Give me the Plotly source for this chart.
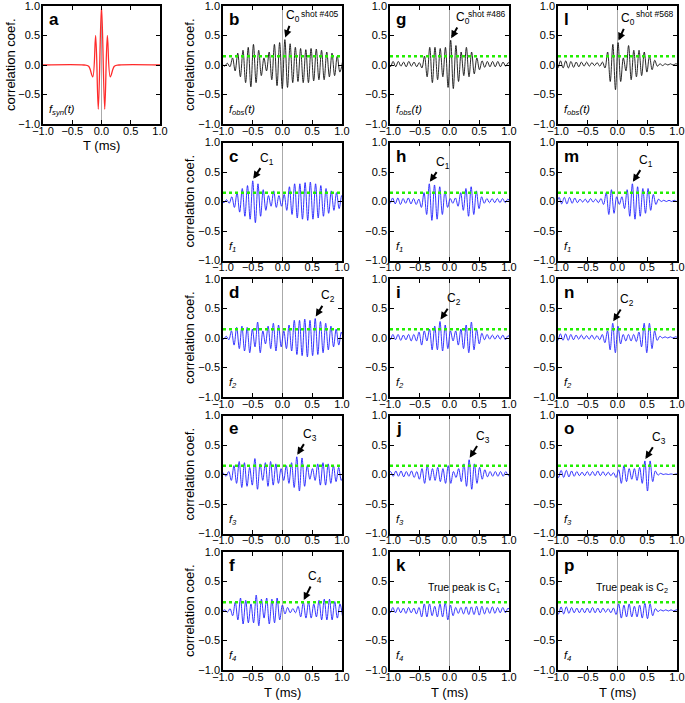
import plotly.graph_objects as go

# ---------------- data ----------------
HALF = 0.044          # spacing (ms) between successive extrema
THRESHOLD = 0.15      # green dotted threshold
TICKS = [-1.0, -0.5, 0.0, 0.5, 1.0]

syn_t = [-1.0, -0.3, -0.22, -0.15, -0.1, -0.055, 0.0, 0.055, 0.1, 0.15, 0.22, 0.3, 1.0]
syn_v = [0.0, 0.0, -0.02, -0.2, 0.5, -0.75, 1.0, -0.75, 0.5, -0.2, -0.02, 0.0, 0.0]

# column 1: shot #405
b_start = -1.016
b_vals = [0.02, -0.02, 0.03, -0.03, 0.12, -0.1, 0.2, -0.2, 0.25, -0.3, 0.3, -0.37, 0.35, -0.3,
          0.25, -0.18, 0.12, -0.1, 0.22, -0.25, 0.35, -0.35, 0.38, -0.4, 0.43, -0.38, 0.36, -0.3,
          0.3, -0.28, 0.28, -0.3, 0.26, -0.3, 0.28, -0.27, 0.27, -0.25, 0.25, -0.25, 0.22, -0.2,
          0.2, -0.18, 0.15, -0.12, 0.05]
c_start = -1.028
c_vals = [0.02, -0.02, 0.03, -0.03, 0.08, -0.1, 0.15, -0.18, 0.22, -0.25, 0.27, -0.3, 0.35, -0.36,
          0.3, -0.25, 0.2, -0.15, 0.1, -0.08, 0.18, -0.1, 0.1, -0.08, 0.12, -0.15, 0.25, -0.22,
          0.3, -0.28, 0.3, -0.3, 0.32, -0.32, 0.33, -0.3, 0.3, -0.28, 0.27, -0.25, 0.22, -0.2,
          0.18, -0.15, 0.15, -0.12, 0.1, -0.1]
d_start = -1.034
d_vals = [0.02, -0.02, 0.03, -0.03, 0.12, -0.12, 0.18, -0.18, 0.2, -0.22, 0.18, -0.25, 0.15, -0.15,
          0.27, -0.25, 0.12, -0.1, 0.2, -0.18, 0.25, -0.22, 0.22, -0.15, 0.12, -0.18, 0.22, -0.22,
          0.3, -0.28, 0.3, -0.3, 0.32, -0.32, 0.3, -0.3, 0.33, -0.28, 0.28, -0.25, 0.25, -0.2,
          0.2, -0.15, 0.15, -0.12, 0.1, -0.08]
e_start = -1.036
e_vals = [-0.02, 0.02, -0.03, 0.05, -0.1, 0.15, -0.15, 0.22, -0.22, 0.2, -0.2, 0.12, -0.18, 0.27,
          -0.25, 0.18, -0.1, 0.2, -0.2, 0.22, -0.18, 0.18, -0.15, 0.1, -0.1, 0.15, -0.15, 0.2,
          -0.22, 0.3, -0.28, 0.28, -0.2, 0.15, -0.08, 0.1, -0.1, 0.18, -0.18, 0.2, -0.18, 0.18,
          -0.15, 0.15, -0.12, 0.12, -0.1, 0.05]
f_start = -1.014
f_vals = [-0.01, 0.02, -0.02, 0.04, -0.08, 0.15, -0.15, 0.22, -0.22, 0.18, -0.2, 0.12, -0.2, 0.27,
          -0.25, 0.2, -0.12, 0.22, -0.22, 0.2, -0.2, 0.22, -0.15, 0.1, -0.05, 0.06, -0.03, 0.04,
          -0.03, 0.08, -0.1, 0.15, -0.12, 0.15, -0.12, 0.12, -0.1, 0.18, -0.15, 0.2, -0.15, 0.2,
          -0.15, 0.16, -0.12, 0.12, -0.1]

# column 2: shot #486
g_start = -1.036
g_vals = [0.05, -0.03, 0.06, -0.03, 0.06, -0.02, 0.05, -0.03, 0.06, -0.02, 0.05, -0.03, 0.04, -0.05,
          0.15, -0.2, 0.3, -0.3, 0.3, -0.25, 0.28, -0.2, 0.3, -0.38, 0.42, -0.4, 0.33, -0.28,
          0.22, -0.18, 0.3, -0.2, 0.22, -0.15, 0.12, -0.08, 0.07, -0.04, 0.06, -0.03, 0.06, -0.03,
          0.06, -0.03, 0.05, -0.02, 0.04, -0.02]
h_start = -1.044
h_vals = [0.05, -0.03, 0.06, -0.04, 0.06, -0.05, 0.05, -0.03, 0.06, -0.04, 0.05, -0.05, 0.04, -0.1,
          0.15, -0.22, 0.3, -0.32, 0.28, -0.3, 0.25, -0.22, 0.18, -0.1, 0.05, -0.03, 0.06, -0.08,
          0.15, -0.15, 0.22, -0.25, 0.25, -0.22, 0.18, -0.12, 0.08, -0.03, 0.05, -0.02, 0.05, -0.02,
          0.05, -0.02, 0.05, -0.02, 0.04, -0.01]
i_start = -1.04
i_vals = [0.05, -0.03, 0.06, -0.03, 0.06, -0.04, 0.05, -0.03, 0.06, -0.05, 0.06, -0.05, 0.1, -0.12,
          0.12, -0.05, 0.15, -0.2, 0.2, -0.2, 0.28, -0.22, 0.22, -0.18, 0.12, -0.05, 0.12, -0.12,
          0.15, -0.18, 0.22, -0.25, 0.27, -0.2, 0.15, -0.1, 0.08, -0.03, 0.06, -0.02, 0.05, -0.02,
          0.05, -0.02, 0.05, -0.03, 0.04, -0.02]
j_start = -1.034
j_vals = [-0.02, 0.05, -0.03, 0.06, -0.03, 0.06, -0.04, 0.05, -0.03, 0.06, -0.05, 0.05, -0.08, 0.1,
          -0.15, 0.15, -0.1, 0.1, -0.1, 0.12, -0.12, 0.1, -0.15, 0.15, -0.15, 0.05, -0.05, 0.1,
          -0.12, 0.18, -0.2, 0.25, -0.25, 0.18, -0.15, 0.12, -0.08, 0.08, -0.04, 0.05, -0.03, 0.05,
          -0.03, 0.05, -0.03, 0.05, -0.02, 0.03]
k_start = -1.04
k_vals = [0.05, -0.03, 0.06, -0.03, 0.06, -0.03, 0.05, -0.04, 0.06, -0.03, 0.05, -0.05, 0.06, -0.1,
          0.12, -0.1, 0.12, -0.08, 0.08, -0.1, 0.12, -0.1, 0.14, -0.15, 0.1, -0.08, 0.06, -0.04,
          0.06, -0.05, 0.07, -0.06, 0.07, -0.06, 0.08, -0.07, 0.08, -0.05, 0.06, -0.04, 0.07, -0.04,
          0.06, -0.03, 0.06, -0.03, 0.05, -0.02]

# column 3: shot #568
l_start = -1.046
l_vals = [0.06, -0.05, 0.07, -0.05, 0.07, -0.05, 0.06, -0.04, 0.05, -0.03, 0.05, -0.02, 0.05, -0.02,
          0.04, -0.01, 0.04, -0.02, 0.05, -0.05, 0.22, -0.28, 0.35, -0.42, 0.38, -0.28, 0.12, -0.1,
          0.33, -0.25, 0.25, -0.2, 0.25, -0.18, 0.22, -0.12, 0.15, -0.08, 0.08, -0.02, 0.02, -0.01,
          0.02, 0.0, 0.02, 0.0, 0.02, 0.01]
m_start = -1.026
m_vals = [-0.04, 0.07, -0.04, 0.07, -0.04, 0.07, -0.03, 0.06, -0.02, 0.04, -0.01, 0.04, -0.02, 0.05,
          -0.01, 0.04, -0.02, 0.05, -0.05, 0.15, -0.22, 0.2, -0.2, 0.08, -0.05, 0.08, -0.12, 0.2,
          -0.25, 0.3, -0.3, 0.25, -0.25, 0.22, -0.2, 0.22, -0.15, 0.12, -0.05, 0.04, 0.0, 0.02,
          0.0, 0.02, 0.0, 0.02, 0.0, 0.01]
n_start = -1.048
n_vals = [0.06, -0.04, 0.07, -0.04, 0.07, -0.04, 0.06, -0.03, 0.05, -0.02, 0.05, -0.02, 0.04, -0.02,
          0.05, -0.02, 0.04, -0.03, 0.06, -0.08, 0.12, -0.2, 0.25, -0.25, 0.2, -0.1, 0.06, -0.05,
          0.06, -0.05, 0.06, -0.06, 0.1, -0.15, 0.25, -0.25, 0.25, -0.18, 0.12, -0.04, 0.03, 0.0,
          0.02, 0.0, 0.02, 0.0, 0.02, 0.0]
o_start = -1.036
o_vals = [0.06, -0.05, 0.07, -0.05, 0.07, -0.04, 0.06, -0.03, 0.05, -0.02, 0.04, -0.02, 0.05, -0.02,
          0.05, -0.02, 0.06, -0.02, 0.05, -0.02, 0.04, -0.02, 0.03, -0.05, 0.08, -0.15, 0.15, -0.12,
          0.1, -0.08, 0.1, -0.1, 0.12, -0.15, 0.23, -0.28, 0.23, -0.12, 0.06, -0.01, 0.02, 0.0,
          0.01, 0.0, 0.01, 0.0, 0.01, 0.0]
p_start = -1.036
p_vals = [0.06, -0.05, 0.07, -0.05, 0.07, -0.04, 0.06, -0.03, 0.05, -0.03, 0.05, -0.03, 0.05, -0.03,
          0.06, -0.03, 0.05, -0.03, 0.05, -0.02, 0.04, -0.03, 0.05, -0.06, 0.12, -0.12, 0.1, -0.1,
          0.12, -0.1, 0.08, -0.1, 0.1, -0.12, 0.13, -0.13, 0.12, -0.08, 0.04, -0.01, 0.02, 0.0,
          0.02, 0.0, 0.02, 0.0, 0.02, 0.0]

# labelled peaks: panel -> (index into the panel's values, label, label offset x, label offset y)
peak_marks = {
    "b": (24, "C<sub>0</sub>", 8, -22), "g": (24, "C<sub>0</sub>", 12, -21), "l": (24, "C<sub>0</sub>", 10, -22),
    "c": (12, "C<sub>1</sub>", 14, -21), "d": (36, "C<sub>2</sub>", 13, -21), "e": (29, "C<sub>3</sub>", 13, -21),
    "f": (31, "C<sub>4</sub>", 12, -24),
    "h": (16, "C<sub>1</sub>", 14, -20), "i": (20, "C<sub>2</sub>", 14, -21), "j": (31, "C<sub>3</sub>", 14, -22),
    "m": (29, "C<sub>1</sub>", 14, -22), "n": (22, "C<sub>2</sub>", 14, -22), "o": (34, "C<sub>3</sub>", 14, -22),
}
shot_labels = {"b": "shot #405", "g": "shot #486", "l": "shot #568"}
true_peak_labels = {"k": "True peak is C<sub>1</sub>", "p": "True peak is C<sub>2</sub>"}
func_labels = {"a": "f<sub>syn</sub>(t)", "b": "f<sub>obs</sub>(t)", "g": "f<sub>obs</sub>(t)", "l": "f<sub>obs</sub>(t)",
               "c": "f<sub>1</sub>", "h": "f<sub>1</sub>", "m": "f<sub>1</sub>",
               "d": "f<sub>2</sub>", "i": "f<sub>2</sub>", "n": "f<sub>2</sub>",
               "e": "f<sub>3</sub>", "j": "f<sub>3</sub>", "o": "f<sub>3</sub>",
               "f": "f<sub>4</sub>", "k": "f<sub>4</sub>", "p": "f<sub>4</sub>"}

panel_series = {
    "b": (b_start, b_vals), "c": (c_start, c_vals), "d": (d_start, d_vals), "e": (e_start, e_vals), "f": (f_start, f_vals),
    "g": (g_start, g_vals), "h": (h_start, h_vals), "i": (i_start, i_vals), "j": (j_start, j_vals), "k": (k_start, k_vals),
    "l": (l_start, l_vals), "m": (m_start, m_vals), "n": (n_start, n_vals), "o": (o_start, o_vals), "p": (p_start, p_vals),
}

# ---------------- layout geometry (page pixels) ----------------
W, H = 685, 703
COLS = [(223, 342), (390, 509), (558, 677)]
ROW_TOPS = [6, 142.5, 279, 415.5, 552]
PH = 118
A_BOX = (43, 160, 6, 124)
FONT = "Liberation Sans, Arial, Helvetica, sans-serif"

panels = {}
panels["a"] = A_BOX
for ci, col in enumerate([["b", "c", "d", "e", "f"], ["g", "h", "i", "j", "k"], ["l", "m", "n", "o", "p"]]):
    for ri, name in enumerate(col):
        x0, x1 = COLS[ci]
        panels[name] = (x0, x1, ROW_TOPS[ri], ROW_TOPS[ri] + PH)


def px_x(p):
    return p / W


def px_y(p):
    return 1 - p / H


order = list("abcdefghijklmnop")
fig = go.Figure()
annotations = []
shapes = []
layout_axes = {}

for idx, name in enumerate(order):
    n = idx + 1
    xa = "x" if n == 1 else f"x{n}"
    ya = "y" if n == 1 else f"y{n}"
    xkey = "xaxis" if n == 1 else f"xaxis{n}"
    ykey = "yaxis" if n == 1 else f"yaxis{n}"
    x0, x1, y0, y1 = panels[name]
    common = dict(range=[-1, 1], tickvals=TICKS, tickformat=".1f", ticks="inside", ticklen=4,
                  tickwidth=1, tickcolor="black", showline=True, linecolor="black", linewidth=1.5,
                  mirror="ticks", showgrid=False, zeroline=False, ticklabeloverflow="allow",
                  tickfont=dict(family=FONT, size=11, color="black"), fixedrange=True)
    layout_axes[xkey] = dict(common, domain=[px_x(x0), px_x(x1)], anchor=ya, ticklabelstandoff=-4)
    layout_axes[ykey] = dict(common, domain=[px_y(y1), px_y(y0)], anchor=xa, ticklabelstandoff=-1)

    shapes.append(dict(type="line", xref=xa, yref=ya, x0=0, x1=0, y0=-1, y1=1,
                       line=dict(color="#aaaaaa", width=1), layer="below"))
    if name != "a":
        shapes.append(dict(type="line", xref=xa, yref=ya, x0=-1, x1=1, y0=THRESHOLD, y1=THRESHOLD,
                           line=dict(color="#22ee00", width=2.5, dash="dot"), layer="above"))

    if name == "a":
        fig.add_trace(go.Scatter(x=syn_t, y=syn_v, mode="lines",
                                 line=dict(color="#ff2a2a", width=1.3, shape="spline", smoothing=1.0),
                                 xaxis=xa, yaxis=ya, showlegend=False, hoverinfo="skip"))
    else:
        start, vals = panel_series[name]
        ts = [start + k * HALF for k in range(len(vals))]
        color = "#111111" if name in ("b", "g", "l") else "#1f1fff"
        fig.add_trace(go.Scatter(x=ts, y=vals, mode="lines",
                                 line=dict(color=color, width=0.9, shape="spline", smoothing=1.0),
                                 xaxis=xa, yaxis=ya, showlegend=False, hoverinfo="skip"))
        if name in peak_marks:
            pi, lab, axo, ayo = peak_marks[name]
            annotations.append(dict(x=ts[pi], y=vals[pi] + 0.02, xref=xa, yref=ya, text=lab, showarrow=True,
                                    arrowhead=2, arrowsize=0.75, arrowwidth=2, arrowcolor="black",
                                    ax=axo, ay=ayo, standoff=1, font=dict(family=FONT, size=12, color="black")))

    annotations.append(dict(x=px_x(x0 + 4), y=px_y(y0 + 2), xref="paper", yref="paper", text=f"<b>{name}</b>",
                            showarrow=False, xanchor="left", yanchor="top",
                            font=dict(family=FONT, size=17, color="black")))
    annotations.append(dict(x=px_x(x0 + 4), y=px_y(y1 - 5), xref="paper", yref="paper",
                            text=f"<i>{func_labels[name]}</i>",
                            showarrow=False, xanchor="left", yanchor="bottom",
                            font=dict(family=FONT, size=11, color="black")))
    if name in shot_labels:
        annotations.append(dict(x=px_x(x1 - 1), y=px_y(y0 + 8), xref="paper", yref="paper", text=shot_labels[name],
                                showarrow=False, xanchor="right", yanchor="middle",
                                font=dict(family=FONT, size=8.5, color="black")))
    if name in true_peak_labels:
        annotations.append(dict(x=px_x(x1 - 7), y=px_y(y0 + 36), xref="paper", yref="paper",
                                text=true_peak_labels[name],
                                showarrow=False, xanchor="right", yanchor="middle",
                                font=dict(family=FONT, size=10.5, color="black")))

for name, xpix in [("a", 10), ("b", 189), ("c", 189), ("d", 189), ("e", 189), ("f", 189)]:
    x0, x1, y0, y1 = panels[name]
    annotations.append(dict(x=px_x(xpix), y=px_y((y0 + y1) / 2), xref="paper", yref="paper", text="correlation coef.",
                            showarrow=False, textangle=-90, xanchor="center", yanchor="middle",
                            font=dict(family=FONT, size=13, color="black")))
for name, ypix in [("a", 145), ("f", 692), ("k", 692), ("p", 692)]:
    x0, x1, y0, y1 = panels[name]
    annotations.append(dict(x=px_x((x0 + x1) / 2), y=px_y(ypix), xref="paper", yref="paper", text="T (ms)",
                            showarrow=False, xanchor="center", yanchor="middle",
                            font=dict(family=FONT, size=13, color="black")))

fig.update_layout(width=W, height=H, margin=dict(l=0, r=0, t=0, b=0, pad=0, autoexpand=False),
                  paper_bgcolor="white", plot_bgcolor="white", annotations=annotations, shapes=shapes,
                  showlegend=False, **layout_axes)
fig.write_html("out.html", config={"displayModeBar": False},
               post_script="document.body.style.margin='0px';document.body.style.overflow='hidden';")
